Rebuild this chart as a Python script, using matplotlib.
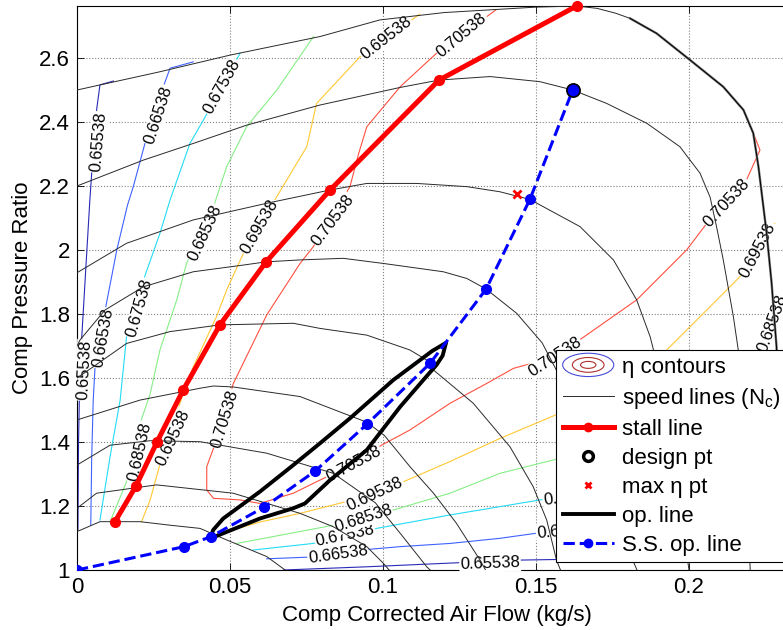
import numpy as np
import matplotlib
matplotlib.use('Agg')
import matplotlib.pyplot as plt
from matplotlib.lines import Line2D
from matplotlib.patches import Ellipse
from matplotlib.legend_handler import HandlerBase

plt.rcParams['font.family'] = ['Liberation Sans', 'DejaVu Sans']
plt.rcParams['mathtext.fontset'] = 'custom'
plt.rcParams['mathtext.rm'] = 'Liberation Sans'
plt.rcParams['mathtext.it'] = 'Liberation Sans:italic'

nan = np.nan

# ---------------- speed lines (N_c) ----------------
L1_x = [0, 0.0271, 0.05, 0.0794, 0.099, 0.120, 0.150, 0.1633, 0.1700, 0.1760, 0.1807, 0.1894, 0.2003, 0.2112, 0.2178, 0.221, 0.2227, 0.2254, 0.227, 0.2286, 0.2300, 0.2315]
L1_y = [2.5, 2.557, 2.609, 2.667, 2.719, 2.742, 2.759, 2.7625, 2.755, 2.740, 2.724, 2.677, 2.594, 2.51, 2.4375, 2.365, 2.26, 2.05, 1.896, 1.698, 1.40, 1.0]
L2_x = [0, 0.0217, 0.038, 0.0554, 0.0794, 0.1056, 0.1183, 0.135, 0.1513, 0.162, 0.1731, 0.1862, 0.197, 0.2036, 0.2069, 0.209, 0.2112, 0.2145, 0.2161, 0.2180, 0.2192, 0.2200]
L2_y = [2.2, 2.281, 2.333, 2.39, 2.453, 2.508, 2.531, 2.542, 2.526, 2.50, 2.458, 2.396, 2.323, 2.24, 2.165, 2.073, 1.969, 1.792, 1.6875, 1.45, 1.2, 1.0]
L3_x = [0, 0.0162, 0.038, 0.062, 0.0827, 0.0947, 0.111, 0.1274, 0.1382, 0.148, 0.1644, 0.1753, 0.1829, 0.1873, 0.1884, 0.193, 0.197, 0.200]
L3_y = [1.929, 2.021, 2.094, 2.146, 2.1875, 2.208, 2.208, 2.198, 2.182, 2.158, 2.073, 1.969, 1.844, 1.729, 1.6875, 1.45, 1.2, 1.0]
L4_x = [0, 0.001, 0.00915, 0.0217, 0.038, 0.0544, 0.0618, 0.0729, 0.087, 0.1001, 0.1197, 0.1274, 0.1337, 0.1437, 0.152, 0.158, 0.166, 0.174, 0.183]
L4_y = [1.70, 1.719, 1.8125, 1.885, 1.932, 1.953, 1.963, 1.969, 1.974, 1.958, 1.932, 1.911, 1.878, 1.802, 1.71, 1.60, 1.40, 1.20, 1.0]
L5_x = [0, 0.0053, 0.0162, 0.0304, 0.0467, 0.0707, 0.0794, 0.0947, 0.1088, 0.1143, 0.1165, 0.1295, 0.1415, 0.1491, 0.1535, 0.1567, 0.158]
L5_y = [1.60, 1.635, 1.708, 1.745, 1.766, 1.771, 1.755, 1.734, 1.6875, 1.656, 1.625, 1.521, 1.385, 1.26, 1.156, 1.031, 1.0]
L6_x = [0, 0.0206, 0.0402, 0.0446, 0.051, 0.0729, 0.087, 0.0947, 0.1005, 0.1088, 0.1165, 0.124, 0.1317, 0.1335]
L6_y = [1.469, 1.531, 1.568, 1.575, 1.572, 1.542, 1.49, 1.462, 1.42, 1.323, 1.24, 1.146, 1.031, 1.0]
L7_x = [0, 0.0108, 0.0239, 0.0402, 0.062, 0.0838, 0.0975, 0.1056, 0.1143, 0.1154]
L7_y = [1.328, 1.39, 1.404, 1.401, 1.365, 1.302, 1.21, 1.115, 1.01, 1.0]
L8_x = [0, 0.0064, 0.026, 0.051, 0.0729, 0.0838, 0.0947, 0.1001, 0.102]
L8_y = [1.193, 1.24, 1.266, 1.24, 1.177, 1.135, 1.073, 1.021, 1.0]
L9_x = [0, 0.0075, 0.0206, 0.0304, 0.0402, 0.0489, 0.062, 0.068]
L9_y = [1.12, 1.151, 1.151, 1.14, 1.13, 1.094, 1.042, 1.0]
speed_lines = [(L1_x, L1_y), (L2_x, L2_y), (L3_x, L3_y), (L4_x, L4_y), (L5_x, L5_y),
               (L6_x, L6_y), (L7_x, L7_y), (L8_x, L8_y), (L9_x, L9_y)]
choke_start = 10   # index on L1 where the choke bundle begins

# ---------------- efficiency contours ----------------
eta_levels = [0.65538, 0.66538, 0.67538, 0.68538, 0.69538, 0.70538]
eta_colors = ['#2a2ab8', '#3f62ff', '#22dcf5', '#86ee86', '#ffc832', '#ff5040']
c65_x = [0.0119, 0.0075, 0.0064, 0.0048, 0.0042, 0.0015, 0.0008, 0.0005, 0.0003, nan, 0.0675, 0.0729, 0.0947, 0.1252, 0.1448, 0.1578, 0.170]
c65_y = [2.528, 2.516, 2.4375, 2.24, 2.156, 1.719, 1.55, 1.40, 1.125, nan, 1.0, 1.002, 1.01, 1.023, 1.031, 1.033, 1.036]
c66_x = [0.038, 0.0304, 0.0282, 0.0222, 0.0184, 0.0165, 0.013, 0.0092, 0.0059, 0.0053, 0.0048, 0.0045, nan, 0.062, 0.0751, 0.0947, 0.1056, 0.1219, 0.1382, 0.1502, 0.170]
c66_y = [2.588, 2.568, 2.51, 2.333, 2.198, 2.14, 2.0, 1.8125, 1.635, 1.531, 1.35, 1.14, nan, 1.035, 1.04, 1.064, 1.073, 1.083, 1.099, 1.115, 1.135]
c67_x = [0.0533, 0.0413, 0.0369, 0.0304, 0.0271, 0.0217, 0.0162, 0.0141, 0.0108, 0.0075, nan, 0.0576, 0.0772, 0.0979, 0.1219, 0.1382, 0.1513, 0.170]
c67_y = [2.615, 2.406, 2.333, 2.156, 2.052, 1.906, 1.729, 1.531, 1.354, 1.156, nan, 1.0625, 1.083, 1.130, 1.172, 1.198, 1.219, 1.24]
c68_x = [0.0773, 0.0653, 0.0554, 0.0489, 0.0446, 0.0358, 0.0326, 0.0271, 0.0239, 0.0206, 0.0162, 0.0110, nan, 0.0522, 0.0838, 0.1034, 0.1219, 0.1382, 0.1578, 0.185, 0.205, 0.2216, 0.2255, 0.2280]
c68_y = [2.667, 2.5, 2.385, 2.26, 2.135, 1.958, 1.844, 1.6875, 1.55, 1.458, 1.276, 1.155, nan, 1.083, 1.14, 1.1875, 1.24, 1.302, 1.349, 1.45, 1.55, 1.6875, 1.772, 1.86]
c69_x = [0.112, 0.101, 0.0925, 0.0783, 0.0751, 0.0653, 0.0544, 0.0489, 0.0456, 0.038, 0.0347, 0.0271, 0.0239, 0.0211, nan, 0.046, 0.052, 0.0598, 0.0729, 0.0881, 0.1067, 0.1219, 0.1382, 0.1578, 0.175, 0.1927, 0.2058, 0.2172, 0.2225, 0.228]
c69_y = [2.737, 2.6625, 2.604, 2.458, 2.323, 2.167, 1.99, 1.875, 1.792, 1.635, 1.552, 1.33, 1.219, 1.151, nan, 1.115, 1.128, 1.15, 1.177, 1.214, 1.276, 1.339, 1.411, 1.49, 1.57, 1.6875, 1.8125, 1.922, 2.0, 2.083]
c70_x = [0.137, 0.1258, 0.1175, 0.1056, 0.0947, 0.092, 0.0892, 0.0772, 0.0729, 0.062, 0.0511, 0.0446, 0.0424, 0.0424, 0.0446, 0.0533, 0.0598, 0.0707, 0.0794, 0.0905, 0.0995, 0.1088, 0.1219, 0.1339, 0.1426, 0.1562, 0.1611, 0.1829, 0.1992, 0.2058, 0.2124, 0.2188, 0.2232, 0.221, 0.2178, 0.2112, 0.2003, 0.1894]
c70_y = [2.751, 2.672, 2.615, 2.51, 2.385, 2.30, 2.198, 2.01, 1.958, 1.797, 1.583, 1.38, 1.323, 1.25, 1.224, 1.219, 1.208, 1.24, 1.281, 1.331, 1.39, 1.4375, 1.521, 1.583, 1.63, 1.666, 1.698, 1.844, 2.0, 2.083, 2.147, 2.219, 2.3125, 2.365, 2.4375, 2.51, 2.594, 2.677]
eta_paths = [(c65_x, c65_y), (c66_x, c66_y), (c67_x, c67_y), (c68_x, c68_y), (c69_x, c69_y), (c70_x, c70_y)]

# contour labels: level, x, y, rotation (deg)
lab_level = [0.65538, 0.65538, 0.65538, 0.66538, 0.66538, 0.66538, 0.66538, 0.67538, 0.67538, 0.67538, 0.67538,
             0.68538, 0.68538, 0.68538, 0.68538, 0.69538, 0.69538, 0.69538, 0.69538, 0.69538,
             0.70538, 0.70538, 0.70538, 0.70538, 0.70538, 0.70538]
lab_x = [0.0069, 0.0023, 0.135, 0.0265, 0.0085, 0.0853, 0.160, 0.0474, 0.0203, 0.0876, 0.1621,
         0.0418, 0.0206, 0.0935, 0.2271, 0.101, 0.0598, 0.0315, 0.0974, 0.2225,
         0.1258, 0.0837, 0.0484, 0.0905, 0.1562, 0.2124]
lab_y = [2.3375, 1.625, 1.019, 2.422, 1.725, 1.050, 1.122, 2.51, 1.819, 1.107, 1.231,
         2.053, 1.369, 1.160, 1.772, 2.6625, 2.072, 1.414, 1.2375, 2.0,
         2.672, 2.094, 1.472, 1.331, 1.666, 2.147]
lab_rot = [85, 87, 2, 72, 80, 8, 5, 61, 74, 12, 8,
           65, 77, 18, 70, 38, 60, 65, 25, 62,
           40, 53, 73, 28, 33, 47]

# ---------------- stall line ----------------
stall_x = [0.0124, 0.0193, 0.0262, 0.0347, 0.0467, 0.0618, 0.0827, 0.1183, 0.1633]
stall_y = [1.151, 1.263, 1.401, 1.5625, 1.766, 1.963, 2.1875, 2.531, 2.7625]

# ---------------- operating lines ----------------
op_x = [0.0437, 0.0445, 0.0478, 0.0598, 0.0707, 0.0794, 0.0892, 0.1034, 0.1121, 0.1160, 0.1206,
        0.1195, 0.1175, 0.1132, 0.1056, 0.0947, 0.0827, 0.0745, 0.0707, 0.0598, 0.0437]
op_y = [1.104, 1.125, 1.161, 1.245, 1.328, 1.396, 1.474, 1.594, 1.656, 1.684, 1.71,
        1.67, 1.641, 1.594, 1.51, 1.375, 1.281, 1.208, 1.193, 1.161, 1.099]
ss_x = [0, 0.035, 0.0437, 0.0611, 0.0778, 0.0947, 0.1154, 0.1337, 0.1480, 0.162]
ss_y = [1, 1.073, 1.104, 1.196, 1.309, 1.455, 1.646, 1.878, 2.158, 2.50]
design_x, design_y = [0.162], [2.50]
maxeta_x, maxeta_y = [0.1437], [2.175]

x_ticks = [0, 0.05, 0.1, 0.15, 0.2]
x_ticklabels = ['0', '0.05', '0.1', '0.15', '0.2']
y_ticks = [1, 1.2, 1.4, 1.6, 1.8, 2, 2.2, 2.4, 2.6]
y_ticklabels = ['1', '1.2', '1.4', '1.6', '1.8', '2', '2.2', '2.4', '2.6']

# ---------------- figure ----------------
fig = plt.figure(figsize=(7.83, 6.3), dpi=100)
ax = fig.add_axes([77 / 783, 60 / 630, 720 / 783, 564 / 630])
ax.set_xlim(0, 720 / 3060)
ax.set_ylim(1, 1 + 564 / 320)

for (cx, cy), col in zip(eta_paths, eta_colors):
    ax.plot(cx, cy, color=col, lw=0.8, zorder=2)

for lev, lx, ly, rot in zip(lab_level, lab_x, lab_y, lab_rot):
    ax.text(lx, ly, f'{lev:.5f}', fontsize=12, rotation=rot, rotation_mode='anchor',
            ha='center', va='center', zorder=3,
            bbox=dict(boxstyle='square,pad=0.05', fc='white', ec='none'))

for sx, sy in speed_lines:
    ax.plot(sx, sy, color='#2a2a2a', lw=0.7, zorder=4)
ax.plot(L1_x[choke_start:], L1_y[choke_start:], color='#707070', lw=1.7, zorder=4)
ax.plot(L1_x[choke_start:], L1_y[choke_start:], color='k', lw=0.7, zorder=4)

ax.plot(op_x, op_y, color='k', lw=2.8, zorder=5)
ax.plot(ss_x, ss_y, color='blue', ls='--', lw=2.2, marker='o', ms=7, zorder=6)
ax.plot(stall_x, stall_y, color='red', lw=3.6, marker='o', ms=7, zorder=7, clip_on=False)
ax.plot(design_x, design_y, ls='none', marker='o', ms=9.5, mfc='blue', mec='k', mew=1.2, zorder=8)
ax.plot(maxeta_x, maxeta_y, ls='none', marker='x', ms=6, mec='red', mew=2, zorder=8)

ax.set_xticks(x_ticks)
ax.set_xticklabels(x_ticklabels)
ax.set_yticks(y_ticks)
ax.set_yticklabels(y_ticklabels)
ax.tick_params(direction='in', length=5, width=0.6, labelsize=16, top=True, right=True, pad=5)
ax.grid(True, ls=':', color='#808080', lw=0.8)
ax.set_axisbelow(True)
for s in ax.spines.values():
    s.set_linewidth(0.8)
ax.set_xlabel('Comp Corrected Air Flow (kg/s)', fontsize=16, labelpad=5)
ax.set_ylabel('Comp Pressure Ratio', fontsize=16, labelpad=4)


class EtaHandle:
    pass


class HandlerEllipses(HandlerBase):
    def create_artists(self, legend, orig_handle, xdescent, ydescent, width, height, fontsize, trans):
        cx = width / 2 - xdescent
        cy = height / 2 - ydescent
        arts = []
        for fw, fh, c in [(1.0, 1.5, '#4a4ad8'), (0.62, 0.95, '#b03030'), (0.3, 0.45, '#b03030')]:
            arts.append(Ellipse((cx, cy), width * fw, height * fh, fill=False, ec=c, lw=0.8, transform=trans))
        return arts


handles = [EtaHandle(),
           Line2D([], [], color='#2a2a2a', lw=0.7),
           Line2D([], [], color='red', lw=3.6, marker='o', ms=6),
           Line2D([], [], ls='none', marker='o', ms=7, mfc='white', mec='k', mew=2.5),
           Line2D([], [], ls='none', marker='x', ms=5, mec='red', mew=2),
           Line2D([], [], color='k', lw=2.8),
           Line2D([], [], color='blue', ls='--', lw=2.2, marker='o', ms=6)]
labels = ['η contours', r'speed lines (N$_{\mathrm{c}}$)', 'stall line', 'design pt',
          'max η pt', 'op. line', 'S.S. op. line']
leg = ax.legend(handles, labels, handler_map={EtaHandle: HandlerEllipses()},
                loc='upper left', bbox_to_anchor=(479 / 720, 220 / 564), borderaxespad=0,
                fontsize=16, numpoints=1, handlelength=2.3, handletextpad=0.35,
                labelspacing=0.36, borderpad=0.3, fancybox=False, framealpha=1,
                edgecolor='k')
leg.get_frame().set_linewidth(0.8)
leg.set_zorder(20)

fig.savefig('out.png', dpi=100)
